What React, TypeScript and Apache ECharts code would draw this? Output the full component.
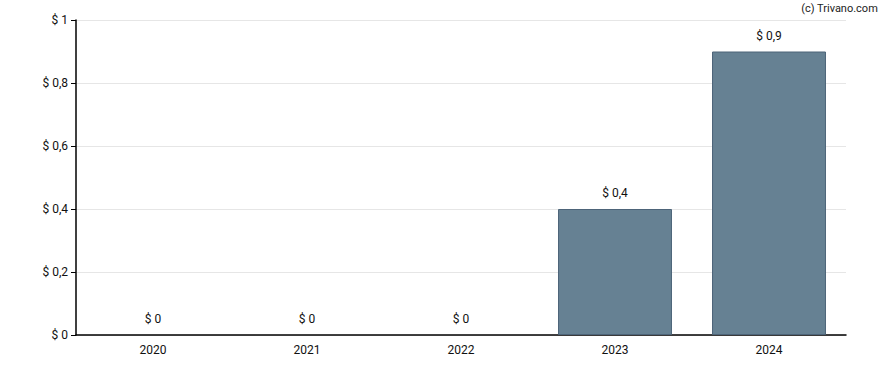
import React, { useEffect, useRef } from "react";
import * as echarts from "echarts";

const years = ["2020", "2021", "2022", "2023", "2024"];
const values = [0, 0, 0, 0.4, 0.9];
const credit = "(c) Trivano.com";

const fmt = (v: number) => "$ " + String(Math.round(v * 10) / 10).replace(".", ",");

export default function App() {
  const ref = useRef<HTMLDivElement>(null);
  useEffect(() => {
    document.body.style.margin = "0";
    const chart = echarts.init(ref.current!, null, { renderer: "svg" });
    chart.setOption({
      animation: false,
      textStyle: { fontFamily: "Roboto" },
      grid: { left: 76, right: 42, top: 20, bottom: 35 },
      graphic: [
        {
          type: "text",
          right: 10,
          top: 3,
          style: { text: credit, fontFamily: "Roboto", fontSize: 11, fill: "#222" },
        },
      ],
      xAxis: {
        type: "category",
        data: years,
        axisLine: { lineStyle: { color: "#000", width: 1.5 } },
        axisTick: { alignWithLabel: true, lineStyle: { color: "#000" }, length: 5 },
        axisLabel: { color: "#111", fontSize: 12, margin: 9 },
      },
      yAxis: {
        type: "value",
        min: 0,
        max: 1,
        interval: 0.2,
        axisLine: { show: true, lineStyle: { color: "#000", width: 1.5 } },
        axisTick: { show: true, lineStyle: { color: "#000" }, length: 5 },
        axisLabel: { color: "#111", fontSize: 12, margin: 8, formatter: (v: number) => fmt(v) },
        splitLine: { lineStyle: { color: "#e6e6e6" } },
      },
      series: [
        {
          type: "bar",
          data: values.map((v) => (v === 0 ? { value: v, itemStyle: { borderWidth: 0 } } : v)),
          barWidth: "74%",
          itemStyle: { color: "#668193", borderColor: "#4d6479", borderWidth: 1 },
          label: {
            show: true,
            position: "top",
            distance: 10,
            color: "#111",
            fontSize: 12,
            formatter: (p: any) => fmt(p.value),
          },
        },
      ],
    });
    return () => chart.dispose();
  }, []);
  return <div ref={ref} style={{ width: 888, height: 370 }} />;
}
